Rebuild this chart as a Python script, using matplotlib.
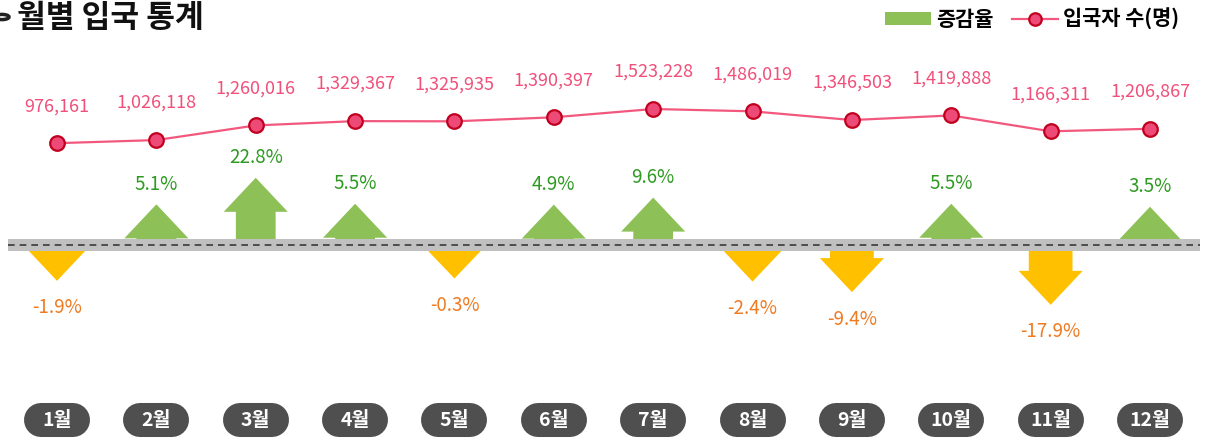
import matplotlib
matplotlib.use("Agg")
import matplotlib.pyplot as plt
from matplotlib.patches import Patch, Circle
from matplotlib.lines import Line2D

plt.rcParams['font.family'] = ['Noto Sans CJK KR', 'DejaVu Sans']

# data
months = list(range(1, 13))
month_labels = ['1월', '2월', '3월', '4월', '5월', '6월', '7월', '8월', '9월', '10월', '11월', '12월']
visitors = [976161, 1026118, 1260016, 1329367, 1325935, 1390397,
            1523228, 1486019, 1346503, 1419888, 1166311, 1206867]
change = [-1.9, 5.1, 22.8, 5.5, -0.3, 4.9, 9.6, -2.4, -9.4, 5.5, -17.9, 3.5]

up_col = '#8DC057'
up_txt = '#2E9A22'
down_col = '#FFC000'
down_txt = '#EE7B22'
line_col = '#F2587E'

fig = plt.figure(figsize=(12.05, 4.47), dpi=100)
ax = fig.add_axes([0, 0, 1, 1])
ax.set_xlim(0.4263, 12.5535)
ax.set_ylim(-202, 245)
ax.axis('off')

# arrows for the change rate
for m, v in zip(months, change):
    L = 33 + 1.5 * abs(v)
    hl = min(34, L)
    if v >= 0:
        ax.arrow(m, 0, 0, L, width=0.40, head_width=0.645, head_length=hl,
                 length_includes_head=True, fc=up_col, ec='none', zorder=2)
        ax.text(m, L + 20, f'{v:.1f}%', color=up_txt, fontsize=13.5,
                ha='center', va='center', zorder=5)
    else:
        ax.arrow(m, 0, 0, -L, width=0.44, head_width=0.645, head_length=hl,
                 length_includes_head=True, fc=down_col, ec='none', zorder=2)
        ax.text(m, -L - 27, f'{v:.1f}%', color=down_txt, fontsize=13.5,
                ha='center', va='center', zorder=5)

# base band
ax.axhspan(-6, 6, xmin=8 / 1205, xmax=1200 / 1205, color='#C0C0C0', zorder=3, lw=0)
ax.axhline(0, xmin=8 / 1205, xmax=1200 / 1205, color='#3A3A3A', lw=1.2,
           ls=(0, (4, 3)), zorder=4)

# month pills
for m, lab in zip(months, month_labels):
    ax.plot([m - 0.161, m + 0.161], [-175, -175], color='#4F4F4F', lw=24.5,
            solid_capstyle='round', zorder=2)
    ax.text(m, -175, lab, color='white', fontsize=14, fontweight='bold',
            ha='center', va='center', zorder=3)

# visitors line
ax2 = fig.add_axes([0, 0, 1, 1], sharex=ax)
ax2.set_ylim(1523228 - 338 * 16000, 1523228 + 109 * 16000)
ax2.patch.set_alpha(0)
ax2.axis('off')
ax2.plot(months, visitors, color=line_col, lw=1.6, marker='o', ms=10.5,
         mfc='#EE4A78', mec='#C0001E', mew=1.6, zorder=5)
for m, v in zip(months, visitors):
    ax2.annotate(f'{v:,}', (m, v), xytext=(0, 37), textcoords='offset pixels',
                 ha='center', va='center', color='#F0507A', fontsize=13)

# title
fig.patches.append(Circle((2 / 1205, 1 - 17 / 447), 7 / 1205, transform=fig.transFigure,
                          fill=False, ec='#222222', lw=2.5))
fig.text(17 / 1205, 1 - 18 / 447, '월별 입국 통계', fontsize=22.5, fontweight='bold',
         color='#111111', va='center')

# legend
handles = [Patch(fc=up_col, ec='none'),
           Line2D([], [], color=line_col, lw=1.6, marker='o', ms=9, mfc='#EE4A78',
                  mec='#C0001E', mew=1.6)]
leg = ax.legend(handles, ['증감율', '입국자 수(명)'], loc='upper right',
                bbox_to_anchor=(1192 / 1205, 1.01), ncol=2, frameon=False,
                handlelength=2.2, handleheight=0.55, columnspacing=0.9, handletextpad=0.25,
                prop={'size': 15, 'weight': 'bold'}, borderaxespad=0.2)

fig.savefig('out.png', dpi=100, facecolor='white')
